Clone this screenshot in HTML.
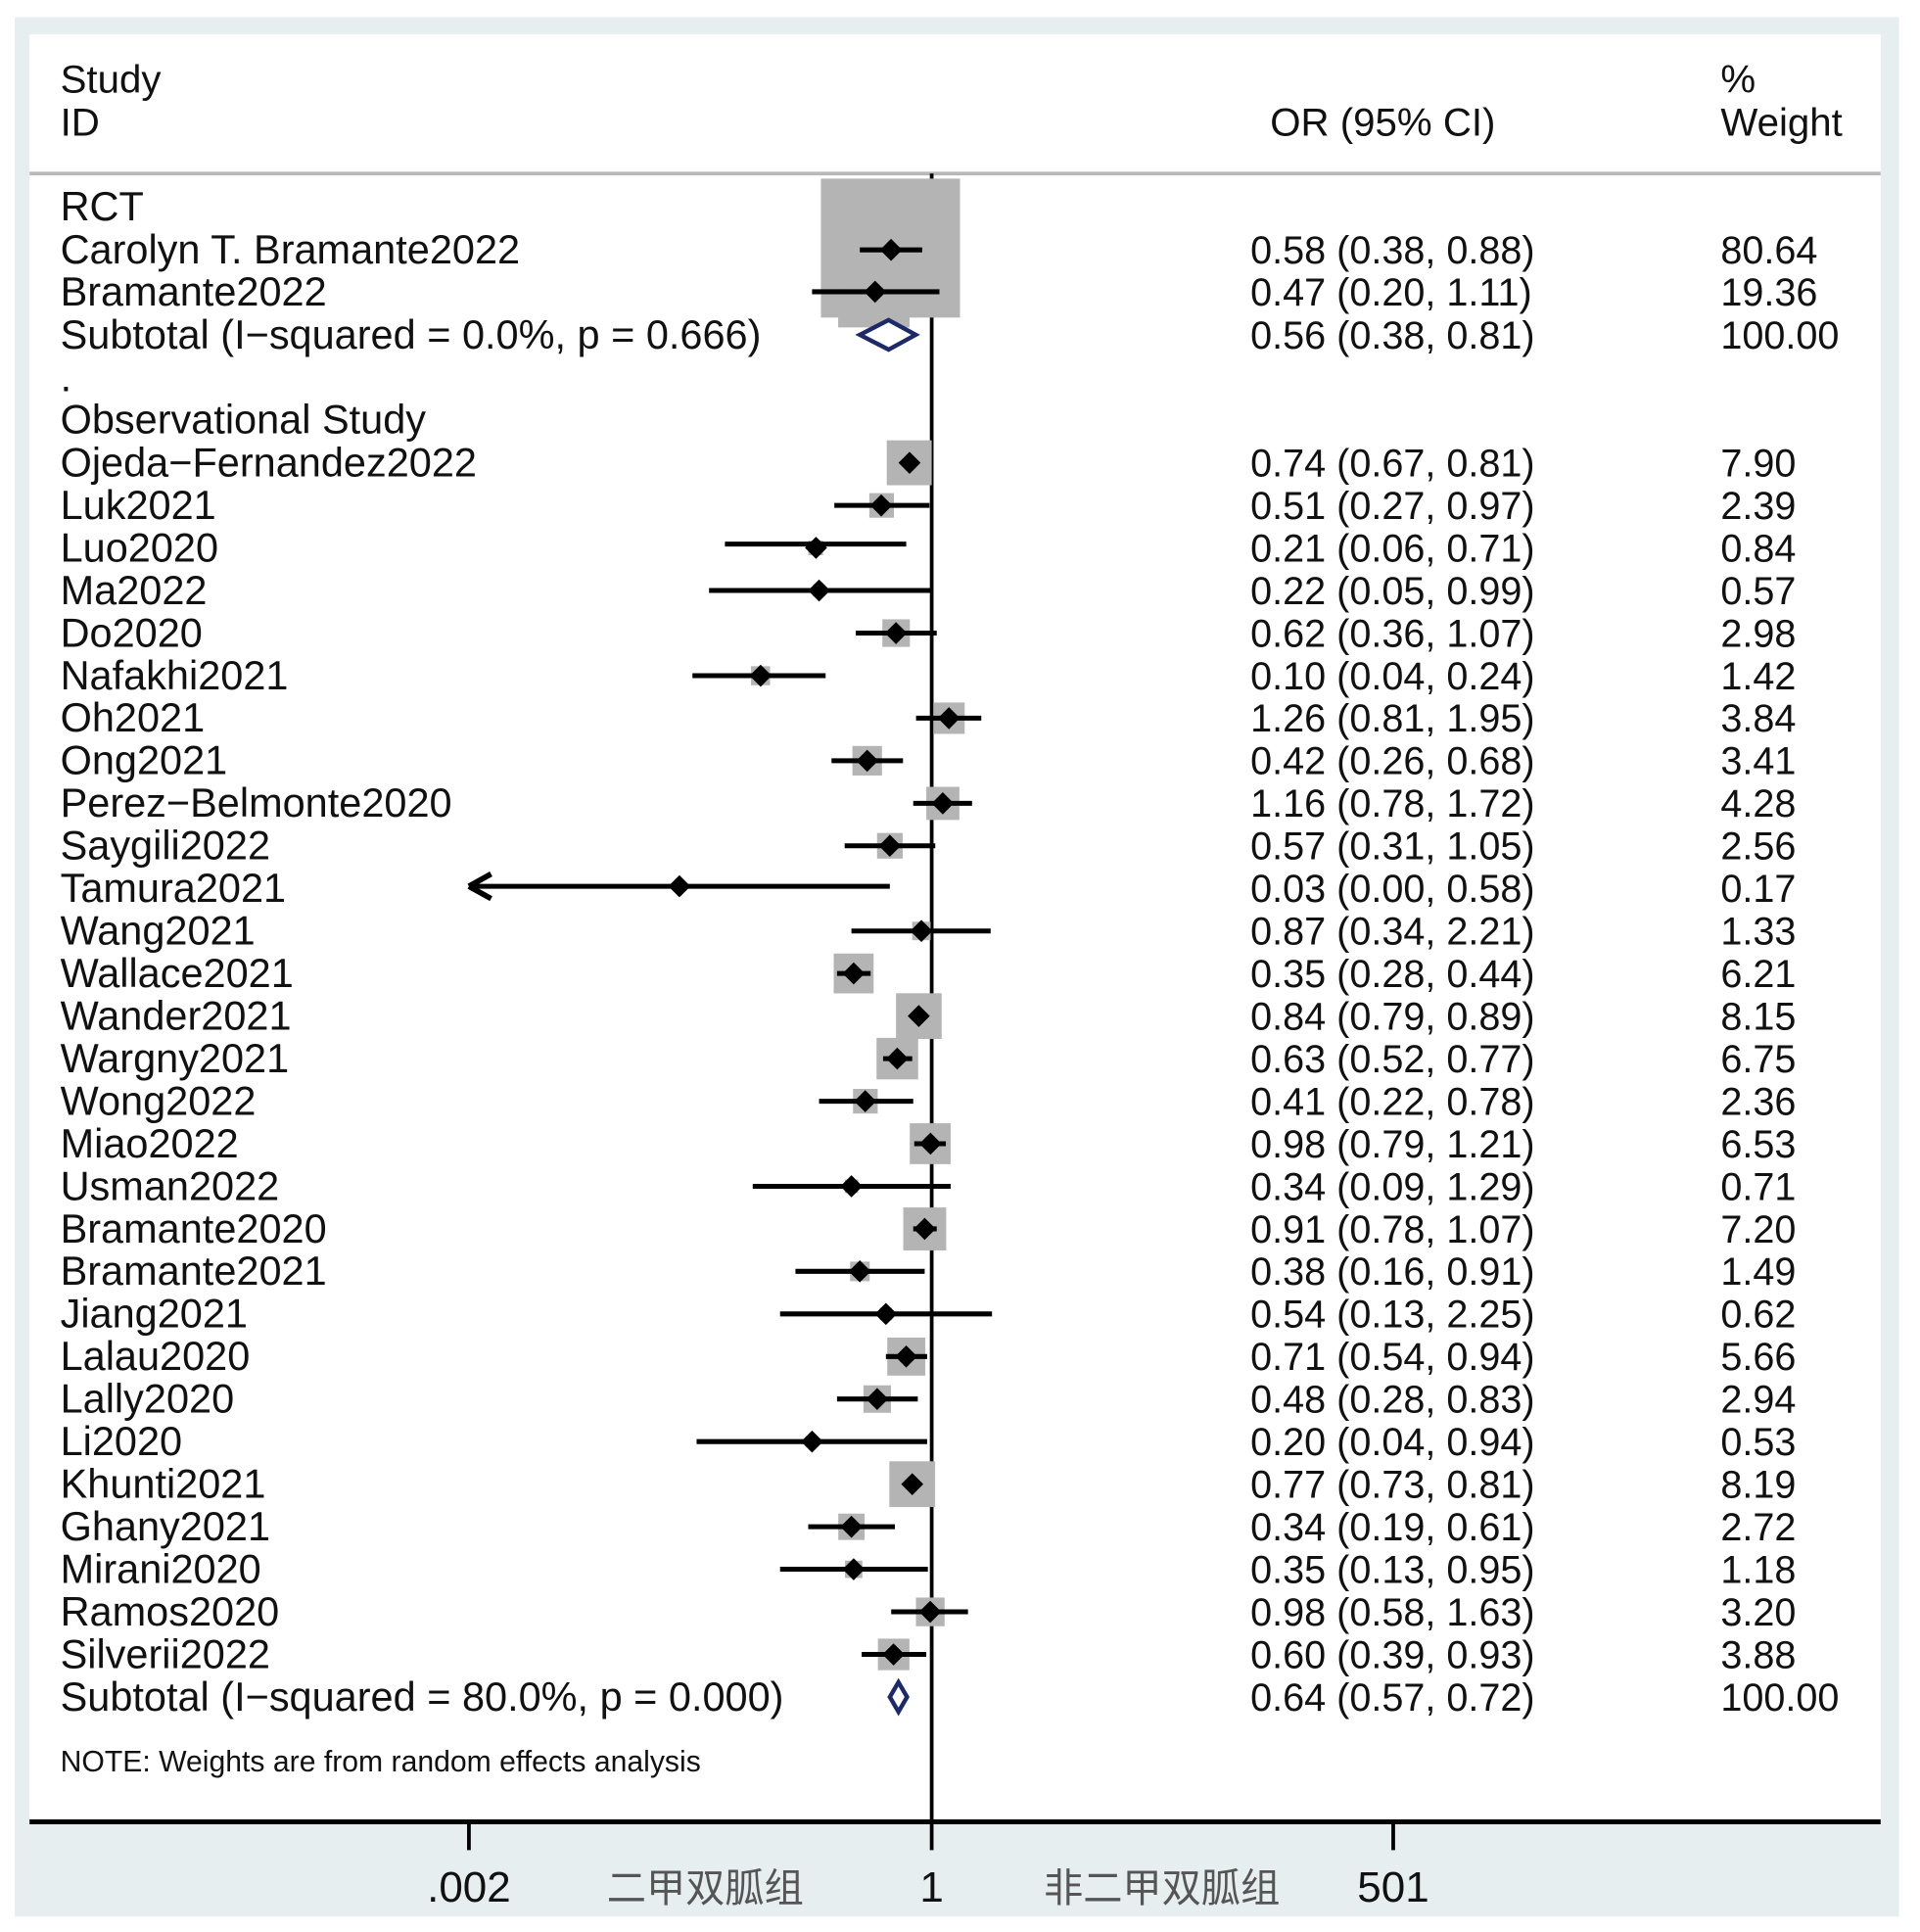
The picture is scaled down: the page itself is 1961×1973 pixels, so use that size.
<!DOCTYPE html>
<html><head><meta charset="utf-8"><style>
html,body{margin:0;padding:0;background:#fff;}
svg{display:block;}
text{font-family:"Liberation Sans","Noto Sans CJK SC",sans-serif;fill:#111;}
</style></head><body>
<svg width="1961" height="1973" viewBox="0 0 1560 1569.5" preserveAspectRatio="none" xmlns="http://www.w3.org/2000/svg">
<rect x="0" y="0" width="1560" height="1570" fill="#fff"/>
<rect x="12" y="14" width="1531" height="1543" fill="#e7eef0"/>
<rect x="24" y="28" width="1504" height="1452" fill="#fff"/>
<line x1="24" y1="141" x2="1528" y2="141" stroke="#b8b8b8" stroke-width="3"/>
<line x1="757" y1="141" x2="757" y2="1480" stroke="#000" stroke-width="3"/>
<defs><clipPath id="c"><rect x="24" y="145" width="1504" height="1335"/></clipPath></defs>
<g fill="#b4b4b4" clip-path="url(#c)">
<rect x="667" y="145" width="113" height="113"/>
<rect x="681" y="209" width="58" height="57"/>
<rect x="720.5" y="357.7" width="36.5" height="36.5"/>
<rect x="706.3" y="400.6" width="20" height="20"/>
<rect x="656.7" y="439.1" width="12" height="12"/>
<rect x="660.6" y="474.8" width="9.8" height="9.8"/>
<rect x="716.9" y="503.1" width="22.4" height="22.4"/>
<rect x="610.2" y="541.2" width="15.5" height="15.5"/>
<rect x="758.3" y="570.7" width="25.5" height="25.5"/>
<rect x="692.6" y="606" width="24" height="24"/>
<rect x="752.6" y="639.2" width="26.9" height="26.9"/>
<rect x="712.6" y="676.7" width="20.8" height="20.8"/>
<rect x="741.1" y="748.8" width="15" height="15"/>
<rect x="677.4" y="774.6" width="32.4" height="32.4"/>
<rect x="728" y="806.9" width="37.1" height="37.1"/>
<rect x="712.2" y="843.1" width="33.8" height="33.8"/>
<rect x="693.1" y="884.6" width="20" height="20"/>
<rect x="739.2" y="912.5" width="33.2" height="33.2"/>
<rect x="686.3" y="958.2" width="11" height="11"/>
<rect x="733.9" y="980.9" width="34.9" height="34.9"/>
<rect x="690.7" y="1024.9" width="15.9" height="15.9"/>
<rect x="714.7" y="1062.3" width="10.2" height="10.2"/>
<rect x="720.9" y="1086.6" width="30.9" height="30.9"/>
<rect x="701.6" y="1125.4" width="22.3" height="22.3"/>
<rect x="655.1" y="1166.4" width="9.5" height="9.5"/>
<rect x="722.6" y="1187.1" width="37.2" height="37.2"/>
<rect x="681.1" y="1229.6" width="21.4" height="21.4"/>
<rect x="686.6" y="1267.8" width="14.1" height="14.1"/>
<rect x="744.2" y="1297.8" width="23.3" height="23.3"/>
<rect x="713.3" y="1331.2" width="25.6" height="25.6"/>
</g>
<g stroke="#000" stroke-width="4">
<line x1="698.6" y1="203" x2="749.3" y2="203"/>
<line x1="659.8" y1="237" x2="763.3" y2="237"/>
<line x1="732.8" y1="376" x2="744.3" y2="376"/>
<line x1="677.9" y1="410.6" x2="755.2" y2="410.6"/>
<line x1="589" y1="442" x2="736.3" y2="442"/>
<line x1="576.1" y1="479.7" x2="756.4" y2="479.7"/>
<line x1="695.3" y1="514.3" x2="761.1" y2="514.3"/>
<line x1="562.6" y1="548.9" x2="670.8" y2="548.9"/>
<line x1="744.3" y1="583.4" x2="797.3" y2="583.4"/>
<line x1="675.6" y1="618" x2="733.7" y2="618"/>
<line x1="742" y1="652.6" x2="789.8" y2="652.6"/>
<line x1="686.3" y1="687.1" x2="759.9" y2="687.1"/>
<line x1="384" y1="720" x2="723" y2="720"/>
<line x1="691.8" y1="756.3" x2="804.9" y2="756.3"/>
<line x1="680.1" y1="790.8" x2="707.4" y2="790.8"/>
<line x1="742.8" y1="825.4" x2="750" y2="825.4"/>
<line x1="717.5" y1="860" x2="741.2" y2="860"/>
<line x1="665.5" y1="894.6" x2="742" y2="894.6"/>
<line x1="742.8" y1="929.1" x2="768.5" y2="929.1"/>
<line x1="611.6" y1="963.7" x2="772.4" y2="963.7"/>
<line x1="742" y1="998.3" x2="761.1" y2="998.3"/>
<line x1="646.3" y1="1032.8" x2="751.3" y2="1032.8"/>
<line x1="633.8" y1="1067.4" x2="806" y2="1067.4"/>
<line x1="719.8" y1="1102" x2="753.3" y2="1102"/>
<line x1="680.1" y1="1136.5" x2="745.7" y2="1136.5"/>
<line x1="566" y1="1171.1" x2="753.3" y2="1171.1"/>
<line x1="738" y1="1205.7" x2="744.3" y2="1205.7"/>
<line x1="656.7" y1="1240.3" x2="727.1" y2="1240.3"/>
<line x1="633.8" y1="1274.8" x2="753.9" y2="1274.8"/>
<line x1="724.1" y1="1309.4" x2="786.5" y2="1309.4"/>
<line x1="700.1" y1="1344" x2="752.6" y2="1344"/>
</g>
<path d="M381 720 L399 710 M381 720 L399 730" stroke="#000" stroke-width="4.5" fill="none"/>
<g fill="#000">
<path d="M724 194l9 9-9 9-9-9z"/>
<path d="M711 228l9 9-9 9-9-9z"/>
<path d="M739 367l9 9-9 9-9-9z"/>
<path d="M716 401.6l9 9-9 9-9-9z"/>
<path d="M663 436l9 9-9 9-9-9z"/>
<path d="M665.5 470.7l9 9-9 9-9-9z"/>
<path d="M728 505.3l9 9-9 9-9-9z"/>
<path d="M618 539.9l9 9-9 9-9-9z"/>
<path d="M771 574.4l9 9-9 9-9-9z"/>
<path d="M704.6 609l9 9-9 9-9-9z"/>
<path d="M766 643.6l9 9-9 9-9-9z"/>
<path d="M723 678.1l9 9-9 9-9-9z"/>
<path d="M552 711l9 9-9 9-9-9z"/>
<path d="M748.6 747.3l9 9-9 9-9-9z"/>
<path d="M693.6 781.8l9 9-9 9-9-9z"/>
<path d="M746.5 816.4l9 9-9 9-9-9z"/>
<path d="M729 851l9 9-9 9-9-9z"/>
<path d="M703 885.6l9 9-9 9-9-9z"/>
<path d="M756 920.1l9 9-9 9-9-9z"/>
<path d="M691.8 954.7l9 9-9 9-9-9z"/>
<path d="M751.3 989.3l9 9-9 9-9-9z"/>
<path d="M698.6 1023.8l9 9-9 9-9-9z"/>
<path d="M719.8 1058.4l9 9-9 9-9-9z"/>
<path d="M736.3 1093l9 9-9 9-9-9z"/>
<path d="M712.7 1127.5l9 9-9 9-9-9z"/>
<path d="M659.8 1162.1l9 9-9 9-9-9z"/>
<path d="M741.2 1196.7l9 9-9 9-9-9z"/>
<path d="M691.8 1231.3l9 9-9 9-9-9z"/>
<path d="M693.6 1265.8l9 9-9 9-9-9z"/>
<path d="M755.8 1300.4l9 9-9 9-9-9z"/>
<path d="M726 1335l9 9-9 9-9-9z"/>
</g>
<g fill="#fff" stroke="#1c2a6a" stroke-width="3.5">
<path d="M698.6 272 L722 260 L744 272 L722 284 Z"/>
<path d="M730 1366.6 L737 1378.6 L730 1390.6 L723 1378.6 Z"/>
</g>
<line x1="24" y1="1480" x2="1528" y2="1480" stroke="#000" stroke-width="4"/>
<g stroke="#000" stroke-width="3">
<line x1="381" y1="1480" x2="381" y2="1503"/>
<line x1="757" y1="1480" x2="757" y2="1503"/>
<line x1="1132" y1="1480" x2="1132" y2="1503"/>
</g>
<g font-size="32">
<text x="49" y="75">Study</text>
<text x="49" y="110">ID</text>
<text x="1032" y="110">OR (95% CI)</text>
<text x="1398" y="75">%</text>
<text x="1398" y="110">Weight</text>
</g>
<g font-size="33" xml:space="preserve">
<text x="49" y="179">RCT</text>
<text x="49" y="214">Carolyn T. Bramante2022</text>
<text x="49" y="248">Bramante2022</text>
<text x="49" y="283">Subtotal  (I−squared = 0.0%, p = 0.666)</text>
<text x="49" y="318">.</text>
<text x="49" y="352">Observational Study</text>
<text x="49" y="387">Ojeda−Fernandez2022</text>
<text x="49" y="421.6">Luk2021</text>
<text x="49" y="456.1">Luo2020</text>
<text x="49" y="490.7">Ma2022</text>
<text x="49" y="525.3">Do2020</text>
<text x="49" y="559.9">Nafakhi2021</text>
<text x="49" y="594.4">Oh2021</text>
<text x="49" y="629">Ong2021</text>
<text x="49" y="663.6">Perez−Belmonte2020</text>
<text x="49" y="698.1">Saygili2022</text>
<text x="49" y="732.7">Tamura2021</text>
<text x="49" y="767.3">Wang2021</text>
<text x="49" y="801.8">Wallace2021</text>
<text x="49" y="836.4">Wander2021</text>
<text x="49" y="871">Wargny2021</text>
<text x="49" y="905.6">Wong2022</text>
<text x="49" y="940.1">Miao2022</text>
<text x="49" y="974.7">Usman2022</text>
<text x="49" y="1009.3">Bramante2020</text>
<text x="49" y="1043.8">Bramante2021</text>
<text x="49" y="1078.4">Jiang2021</text>
<text x="49" y="1113">Lalau2020</text>
<text x="49" y="1147.5">Lally2020</text>
<text x="49" y="1182.1">Li2020</text>
<text x="49" y="1216.7">Khunti2021</text>
<text x="49" y="1251.3">Ghany2021</text>
<text x="49" y="1285.8">Mirani2020</text>
<text x="49" y="1320.4">Ramos2020</text>
<text x="49" y="1355">Silverii2022</text>
<text x="49" y="1389.6">Subtotal  (I−squared = 80.0%, p = 0.000)</text>
</g>
<g font-size="31.5">
<text x="1016" y="214">0.58 (0.38, 0.88)</text>
<text x="1016" y="248">0.47 (0.20, 1.11)</text>
<text x="1016" y="283">0.56 (0.38, 0.81)</text>
<text x="1016" y="387">0.74 (0.67, 0.81)</text>
<text x="1016" y="421.6">0.51 (0.27, 0.97)</text>
<text x="1016" y="456.1">0.21 (0.06, 0.71)</text>
<text x="1016" y="490.7">0.22 (0.05, 0.99)</text>
<text x="1016" y="525.3">0.62 (0.36, 1.07)</text>
<text x="1016" y="559.9">0.10 (0.04, 0.24)</text>
<text x="1016" y="594.4">1.26 (0.81, 1.95)</text>
<text x="1016" y="629">0.42 (0.26, 0.68)</text>
<text x="1016" y="663.6">1.16 (0.78, 1.72)</text>
<text x="1016" y="698.1">0.57 (0.31, 1.05)</text>
<text x="1016" y="732.7">0.03 (0.00, 0.58)</text>
<text x="1016" y="767.3">0.87 (0.34, 2.21)</text>
<text x="1016" y="801.8">0.35 (0.28, 0.44)</text>
<text x="1016" y="836.4">0.84 (0.79, 0.89)</text>
<text x="1016" y="871">0.63 (0.52, 0.77)</text>
<text x="1016" y="905.6">0.41 (0.22, 0.78)</text>
<text x="1016" y="940.1">0.98 (0.79, 1.21)</text>
<text x="1016" y="974.7">0.34 (0.09, 1.29)</text>
<text x="1016" y="1009.3">0.91 (0.78, 1.07)</text>
<text x="1016" y="1043.8">0.38 (0.16, 0.91)</text>
<text x="1016" y="1078.4">0.54 (0.13, 2.25)</text>
<text x="1016" y="1113">0.71 (0.54, 0.94)</text>
<text x="1016" y="1147.5">0.48 (0.28, 0.83)</text>
<text x="1016" y="1182.1">0.20 (0.04, 0.94)</text>
<text x="1016" y="1216.7">0.77 (0.73, 0.81)</text>
<text x="1016" y="1251.3">0.34 (0.19, 0.61)</text>
<text x="1016" y="1285.8">0.35 (0.13, 0.95)</text>
<text x="1016" y="1320.4">0.98 (0.58, 1.63)</text>
<text x="1016" y="1355">0.60 (0.39, 0.93)</text>
<text x="1016" y="1389.6">0.64 (0.57, 0.72)</text>
</g>
<g font-size="31.5">
<text x="1398" y="214">80.64</text>
<text x="1398" y="248">19.36</text>
<text x="1398" y="283">100.00</text>
<text x="1398" y="387">7.90</text>
<text x="1398" y="421.6">2.39</text>
<text x="1398" y="456.1">0.84</text>
<text x="1398" y="490.7">0.57</text>
<text x="1398" y="525.3">2.98</text>
<text x="1398" y="559.9">1.42</text>
<text x="1398" y="594.4">3.84</text>
<text x="1398" y="629">3.41</text>
<text x="1398" y="663.6">4.28</text>
<text x="1398" y="698.1">2.56</text>
<text x="1398" y="732.7">0.17</text>
<text x="1398" y="767.3">1.33</text>
<text x="1398" y="801.8">6.21</text>
<text x="1398" y="836.4">8.15</text>
<text x="1398" y="871">6.75</text>
<text x="1398" y="905.6">2.36</text>
<text x="1398" y="940.1">6.53</text>
<text x="1398" y="974.7">0.71</text>
<text x="1398" y="1009.3">7.20</text>
<text x="1398" y="1043.8">1.49</text>
<text x="1398" y="1078.4">0.62</text>
<text x="1398" y="1113">5.66</text>
<text x="1398" y="1147.5">2.94</text>
<text x="1398" y="1182.1">0.53</text>
<text x="1398" y="1216.7">8.19</text>
<text x="1398" y="1251.3">2.72</text>
<text x="1398" y="1285.8">1.18</text>
<text x="1398" y="1320.4">3.20</text>
<text x="1398" y="1355">3.88</text>
<text x="1398" y="1389.6">100.00</text>
</g>
<text x="49" y="1439" font-size="24">NOTE: Weights are from random effects analysis</text>
<g font-size="35" text-anchor="middle">
<text x="381" y="1545">.002</text>
<text x="757" y="1545">1</text>
<text x="1132" y="1545">501</text>
</g>
<g font-size="32" text-anchor="middle">
<text x="573" y="1545" style="fill:#555">二甲双胍组</text>
<text x="944" y="1545" style="fill:#555">非二甲双胍组</text>
</g>
</svg>
</body></html>
